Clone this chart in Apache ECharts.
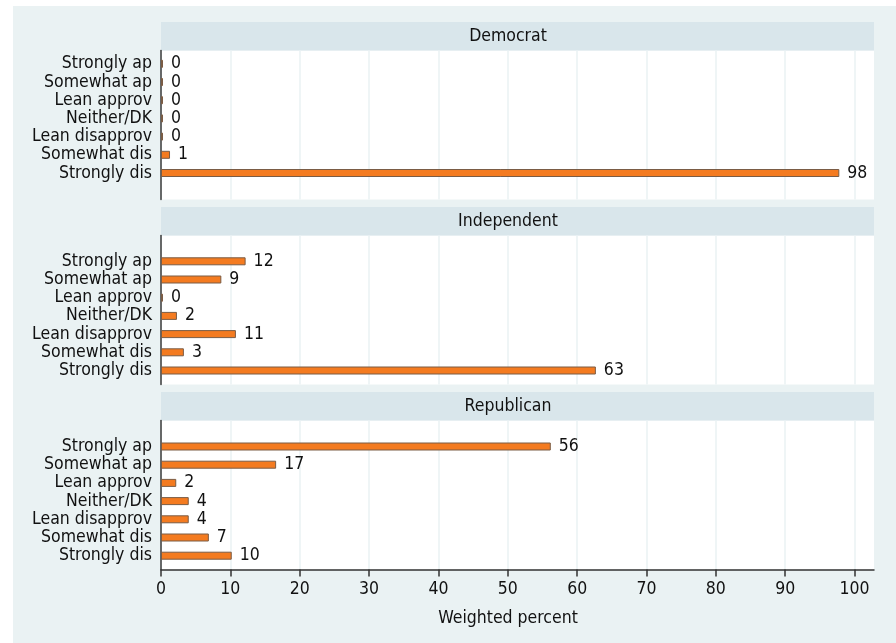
<!DOCTYPE html>
<html><head><meta charset="utf-8">
<script src="https://cdn.jsdelivr.net/npm/echarts@6/dist/echarts.min.js"></script>
<style>html,body{margin:0;padding:0;background:#fff}#c{width:896px;height:643px}</style>
</head><body><div id="c"></div>
<script>
const categories = ['Strongly ap','Somewhat ap','Lean approv','Neither/DK','Lean disapprov','Somewhat dis','Strongly dis'];
const panelNames = ['Democrat','Independent','Republican'];
const democrat = [0, 0, 0, 0, 0, 1.3, 97.8];
const independent = [12.2, 8.7, 0, 2.3, 10.8, 3.3, 62.7];
const republican = [56.2, 16.6, 2.2, 4.0, 4.0, 6.9, 10.2];
const xTicks = [0, 10, 20, 30, 40, 50, 60, 70, 80, 90, 100];
const axisTitle = 'Weighted percent';

const panelValues = [democrat, independent, republican];
const FONT = '"DejaVu Sans Condensed", sans-serif';
const FS = 17.5;
const TXT = '#111';
const XMAX = 102.8;

const L = 161, R = 22;
const layout = [
  {head: 22,  plotTop: 50.5,  barTop: 54.7},
  {head: 207, plotTop: 235.5, barTop: 252.2},
  {head: 392, plotTop: 420.5, barTop: 437.4}
];
const headH = 28.5, plotH = 149, barH = 127.4;

const grid = [], xAxis = [], yAxis = [], series = [], graphic = [];

graphic.push({type: 'rect', shape: {x: 0, y: 0, width: 896, height: 6}, style: {fill: '#fff'}, silent: true});
graphic.push({type: 'rect', shape: {x: 0, y: 0, width: 13, height: 643}, style: {fill: '#fff'}, silent: true});

panelNames.forEach((name, i) => {
  const lay = layout[i];
  const last = i === panelNames.length - 1;
  grid.push({left: L, right: R, top: lay.plotTop, height: plotH, show: true, backgroundColor: '#fff', borderWidth: 0});
  xAxis.push({
    type: 'value', gridIndex: 2 * i, min: 0, max: XMAX, interval: 10,
    axisLine: {show: last, onZero: false, lineStyle: {color: '#333', width: 1.5}},
    axisTick: {show: last, length: 7, customValues: xTicks, lineStyle: {color: '#333', width: 1.5}},
    axisLabel: {show: last, customValues: xTicks, margin: 11, fontFamily: FONT, fontSize: FS, color: TXT},
    splitLine: {show: true, lineStyle: {color: '#EAF2F3', width: 1.5}}
  });
  yAxis.push({
    type: 'category', gridIndex: 2 * i, data: categories,
    axisLine: {show: true, lineStyle: {color: '#3a3a3a', width: 1.5}},
    axisTick: {show: false}, axisLabel: {show: false}, splitLine: {show: false}
  });
  grid.push({left: L, right: R, top: lay.barTop, height: barH, show: false});
  xAxis.push({type: 'value', gridIndex: 2 * i + 1, min: 0, max: XMAX, show: false, splitLine: {show: false}});
  yAxis.push({
    type: 'category', gridIndex: 2 * i + 1, data: categories, inverse: true,
    axisLine: {show: false}, axisTick: {show: false}, splitLine: {show: false},
    axisLabel: {interval: 0, margin: 9, fontFamily: FONT, fontSize: FS, color: TXT}
  });
  series.push({
    type: 'bar', xAxisIndex: 2 * i + 1, yAxisIndex: 2 * i + 1, data: panelValues[i],
    barWidth: 8, barMinHeight: 2, silent: true,
    itemStyle: {color: '#F47B20', borderColor: '#7a5c45', borderWidth: 1},
    label: {show: true, position: 'right', distance: 8, formatter: p => String(Math.round(p.value)),
      fontFamily: FONT, fontSize: FS, color: TXT}
  });
  graphic.push({type: 'rect', shape: {x: L, y: lay.head, width: 896 - L - R, height: headH},
    style: {fill: '#D9E6EB'}, silent: true});
  graphic.push({type: 'text', x: 508, y: lay.head + headH / 2,
    style: {text: name, fontFamily: FONT, fontSize: FS, fill: TXT, align: 'center', verticalAlign: 'middle'}, silent: true});
});

graphic.push({type: 'text', x: 508, y: 618,
  style: {text: axisTitle, fontFamily: FONT, fontSize: FS, fill: TXT, align: 'center', verticalAlign: 'middle'}, silent: true});

const chart = echarts.init(document.getElementById('c'), null, {renderer: 'canvas'});
chart.setOption({
  animation: false,
  backgroundColor: '#EAF2F3',
  grid, xAxis, yAxis, series, graphic
});
</script>
</body></html>
